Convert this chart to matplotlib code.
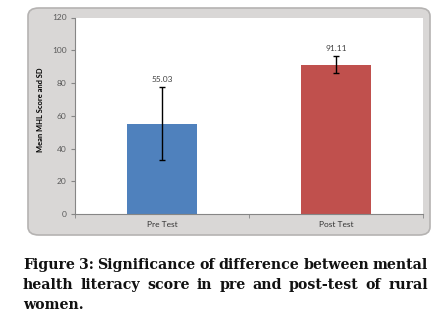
import numpy as np
import matplotlib.pyplot as plt
from matplotlib.patches import FancyBboxPatch

# data
groups = ["Pre Test", "Post Test"]
means = [55.03, 91.11]
sds = [22.3, 5.1]
bar_colors = ["#4f81bd", "#c0504d"]
y_ticks = [0, 20, 40, 60, 80, 100, 120]

caption_lines = [
    "Figure 3: Significance of difference between mental",
    "health literacy score in pre and post-test of rural",
    "women.",
]

W, H = 435, 320
fig = plt.figure(figsize=(W / 100, H / 100), dpi=100)
fig.patch.set_facecolor("white")

# grey rounded chart frame (Excel style)
frame = FancyBboxPatch((28 / W, 1 - 235 / H), (430 - 28) / W, (235 - 8) / H,
                       boxstyle="round,pad=0,rounding_size=0.025",
                       transform=fig.transFigure, facecolor="#d9d7d6",
                       edgecolor="#b5b3b2", linewidth=1.2, zorder=0)
fig.patches.append(frame)

ax = fig.add_axes([75 / W, 1 - 214 / H, (423 - 75) / W, (214 - 17.5) / H])
ax.set_zorder(2)
ax.set_facecolor("white")
x = np.arange(len(groups))
ax.bar(x, means, width=0.4, color=bar_colors, zorder=2)
ax.errorbar(x, means, yerr=sds, fmt="none", ecolor="black", elinewidth=1,
            capsize=2, capthick=1, zorder=3)
for xi, m, s in zip(x, means, sds):
    ax.annotate(f"{m:.2f}", (xi, m + s), xytext=(0, 3), textcoords="offset points",
                ha="center", va="bottom", fontsize=6, color="#404040", family="Lato")

ax.set_xlim(-0.5, 1.5)
ax.set_ylim(0, 120)
ax.set_yticks(y_ticks)
ax.set_xticks(x)
ax.set_xticklabels(groups)
ax.set_xticks([-0.5, 0.5, 1.5], minor=True)
ax.tick_params(axis="x", which="major", length=0, pad=5, labelsize=6, labelcolor="#333333")
ax.tick_params(axis="x", which="minor", length=3, color="#868686", direction="out")
ax.tick_params(axis="y", length=3, color="#868686", labelsize=6, labelcolor="#5a5a5a", pad=3)
for lab in ax.get_xticklabels() + ax.get_yticklabels():
    lab.set_family("Lato")
for side in ["top", "right"]:
    ax.spines[side].set_visible(False)
for side in ["left", "bottom"]:
    ax.spines[side].set_color("#868686")
    ax.spines[side].set_linewidth(0.8)
ax.set_ylabel("Mean MHL Score and SD", fontsize=5.4, fontweight="bold", family="Lato")
ax.yaxis.set_label_coords(-0.089, 0.53)

# justified caption
renderer = fig.canvas.get_renderer()
left, right = 23, 428
line_y = [265, 285, 305]
cap_kw = dict(fontsize=10.2, fontweight="bold", family="DejaVu Serif", color="#111111",
              va="center", ha="left")
for i, (line, yy) in enumerate(zip(caption_lines, line_y)):
    words = line.split()
    texts = [fig.text(0, 1 - yy / H, w, **cap_kw) for w in words]
    widths = [t.get_window_extent(renderer).width for t in texts]
    if i < len(caption_lines) - 1 and len(words) > 1:
        gap = (right - left - sum(widths)) / (len(words) - 1)
    else:
        gap = 4
    pos = left
    for t, w in zip(texts, widths):
        t.set_x(pos / W)
        pos += w + gap

fig.savefig("out.png", dpi=100)
